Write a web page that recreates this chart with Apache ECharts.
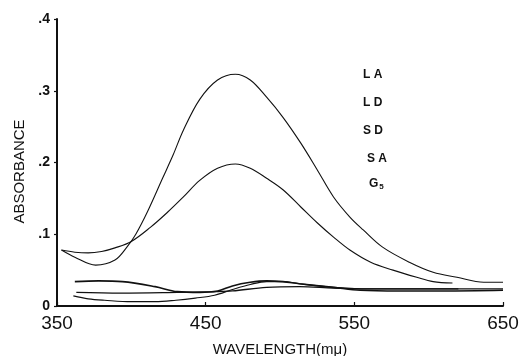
<!DOCTYPE html>
<html>
<head>
<meta charset="utf-8">
<script src="https://cdn.jsdelivr.net/npm/echarts@6/dist/echarts.min.js"></script>
<style>
  html, body { margin: 0; padding: 0; background: #fff; }
  #chart { width: 526px; height: 356px; }
</style>
</head>
<body>
<div id="chart"></div>
<script>
// wavelength (mμ) / absorbance pairs
const seriesNames = ['LA', 'LD', 'SD', 'SA', 'G5'];
const legendLabels = ['L A', 'L D', 'S D', 'S A', 'G{sub|5}'];

const laWave = [353, 362, 376, 389, 397, 403, 411, 421, 428, 435, 446, 458, 470, 480, 491, 502, 514, 525, 536, 547, 556, 569, 587, 603, 619, 637, 650];
const laAbs = [0.078, 0.068, 0.057, 0.064, 0.082, 0.100, 0.132, 0.178, 0.210, 0.245, 0.288, 0.315, 0.323, 0.315, 0.291, 0.263, 0.227, 0.190, 0.152, 0.124, 0.106, 0.082, 0.061, 0.047, 0.040, 0.033, 0.033];

const ldWave = [353, 362, 371, 380, 389, 400, 413, 424, 435, 446, 458, 470, 480, 491, 502, 514, 525, 536, 547, 561, 576, 592, 603, 616];
const ldAbs = [0.078, 0.075, 0.074, 0.076, 0.081, 0.090, 0.110, 0.130, 0.152, 0.175, 0.192, 0.198, 0.192, 0.178, 0.162, 0.138, 0.116, 0.096, 0.078, 0.061, 0.050, 0.040, 0.034, 0.032];

const sdWave = [362, 378, 394, 416, 431, 446, 458, 468, 480, 491, 502, 513, 536, 554, 580, 610, 650];
const sdAbs = [0.034, 0.035, 0.034, 0.027, 0.020, 0.019, 0.021, 0.028, 0.033, 0.035, 0.034, 0.031, 0.026, 0.022, 0.021, 0.021, 0.022];

const saWave = [363, 393, 431, 456, 468, 491, 513, 536, 560, 600, 650];
const saAbs = [0.019, 0.018, 0.019, 0.020, 0.021, 0.026, 0.027, 0.025, 0.024, 0.024, 0.024];

const g5Wave = [361, 371, 382, 400, 416, 430, 443, 456, 468, 480, 491, 502, 513, 536, 554, 580, 620];
const g5Abs = [0.014, 0.010, 0.008, 0.006, 0.006, 0.008, 0.011, 0.015, 0.023, 0.030, 0.034, 0.034, 0.031, 0.026, 0.024, 0.024, 0.024];

const xTicks = [350, 450, 550, 650];
const yTickLabels = ['0', '.1', '.2', '.3', '.4'];

const curves = [
  [laWave, laAbs],
  [ldWave, ldAbs],
  [sdWave, sdAbs],
  [saWave, saAbs],
  [g5Wave, g5Abs]
];
const lineWidths = [1.1, 1.1, 1.6, 1.3, 1.2];

const chart = echarts.init(document.getElementById('chart'));

const option = {
  backgroundColor: '#fff',
  animation: false,
  grid: { left: 57, right: 23, top: 19, bottom: 50, outerBoundsMode: 'none', containLabel: false },
  xAxis: {
    type: 'value',
    min: 350,
    max: 650,
    interval: 100,
    name: 'WAVELENGTH(mμ)',
    nameLocation: 'middle',
    nameGap: 36,
    nameTextStyle: { color: '#111', fontSize: 15, fontFamily: 'Liberation Sans' },
    axisLine: { lineStyle: { color: '#111', width: 2 } },
    axisTick: { inside: true, length: 4, lineStyle: { color: '#111', width: 1.2 } },
    axisLabel: {
      color: '#111',
      fontSize: 19,
      fontFamily: 'Liberation Sans',
      margin: 8,
      formatter: v => (xTicks.includes(v) ? String(v) : '')
    },
    splitLine: { show: false }
  },
  yAxis: {
    type: 'value',
    min: 0,
    max: 0.4,
    interval: 0.1,
    name: 'ABSORBANCE',
    nameLocation: 'middle',
    nameRotate: 90,
    nameGap: 30,
    nameTextStyle: {
      color: '#111',
      fontSize: 15,
      fontFamily: 'Liberation Sans',
      padding: [0, 18, 0, 0]
    },
    axisLine: { lineStyle: { color: '#111', width: 2 } },
    axisTick: { length: 3, lineStyle: { color: '#111', width: 1.2 } },
    axisLabel: {
      color: '#111',
      fontSize: 14,
      fontFamily: 'Liberation Sans',
      fontWeight: 'bold',
      margin: 7,
      formatter: (v) => yTickLabels[Math.round(v * 10)]
    },
    splitLine: { show: false }
  },
  graphic: legendLabels.map((label, i) => ({
    type: 'text',
    left: i < 3 ? 363 : (i === 3 ? 367 : 369),
    top: [69, 97, 125, 153, 178][i],
    style: {
      text: label,
      fill: '#111',
      font: 'bold 12px Liberation Sans',
      rich: { sub: { fontSize: 8, fontWeight: 'bold', padding: [6, 0, 0, 1] } }
    }
  })),
  series: curves.map(([xs, ys], i) => ({
    name: seriesNames[i],
    type: 'line',
    smooth: 0.35,
    symbol: 'none',
    lineStyle: { color: '#111', width: lineWidths[i] },
    data: xs.map((x, k) => [x, ys[k]])
  }))
};

chart.setOption(option);
</script>
</body>
</html>
